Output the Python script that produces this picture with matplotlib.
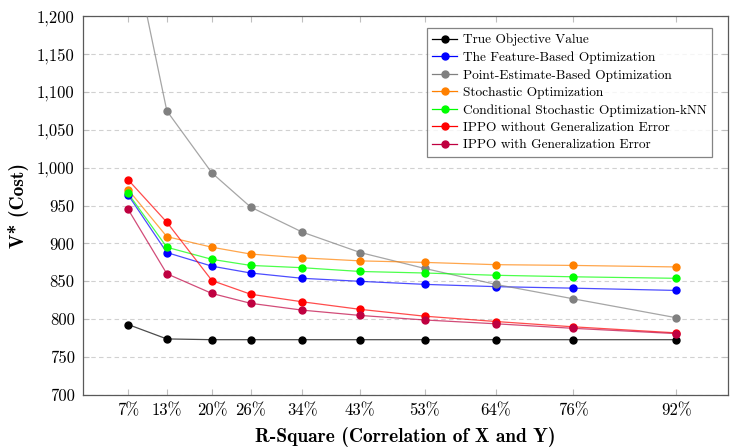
import numpy as np
import matplotlib
matplotlib.use('Agg')
import matplotlib.pyplot as plt
from matplotlib.ticker import FuncFormatter

plt.rcParams['font.family'] = 'serif'
plt.rcParams['font.serif'] = ['cmr10', 'DejaVu Serif']
plt.rcParams['mathtext.fontset'] = 'cm'
plt.rcParams['axes.formatter.use_mathtext'] = True

# R-square levels (%)
r_square = [7, 13, 20, 26, 34, 43, 53, 64, 76, 92]
tick_labels = ['7%', '13%', '20%', '26%', '34%', '43%', '53%', '64%', '76%', '92%']

true_obj = [793, 774, 773, 773, 773, 773, 773, 773, 773, 773]
feature_based = [964, 888, 870, 861, 854, 850, 846, 843, 841, 838]
point_estimate = [1320, 1075, 993, 948, 915, 888, 867, 846, 827, 802]
stochastic = [971, 909, 895, 886, 881, 877, 875, 872, 871, 869]
cond_stoch_knn = [966, 895, 879, 871, 868, 863, 861, 858, 856, 854]
ippo_no_gen = [984, 928, 851, 833, 823, 813, 804, 797, 790, 782]
ippo_gen = [945, 860, 834, 821, 812, 805, 799, 794, 788, 781]

series = [
    ('True Objective Value', true_obj, 'black'),
    ('The Feature-Based Optimization', feature_based, 'blue'),
    ('Point-Estimate-Based Optimization', point_estimate, (0.5, 0.5, 0.5)),
    ('Stochastic Optimization', stochastic, (1.0, 0.5, 0.0)),
    ('Conditional Stochastic Optimization-kNN', cond_stoch_knn, (0.0, 1.0, 0.0)),
    ('IPPO without Generalization Error', ippo_no_gen, 'red'),
    ('IPPO with Generalization Error', ippo_gen, (0.75, 0.0, 0.25)),
]

fig = plt.figure(figsize=(7.3, 4.48), dpi=100)
ax = fig.add_axes([0.1137, 0.1183, 0.8833, 0.8457])

for label, vals, col in series:
    # thin, slightly faded line with solid markers on top
    ax.plot(r_square, vals, color=col, lw=0.9, alpha=0.7, zorder=3)
    ax.plot(r_square, vals, linestyle='none', marker='o', markersize=5,
            color=col, zorder=4)
    ax.plot([], [], color=col, lw=0.9, marker='o', markersize=5,
            label=label)

ax.set_xlim(0, 100)
ax.set_ylim(700, 1200)
ax.set_xticks(r_square)
ax.set_xticklabels(tick_labels, fontsize=12)
ax.set_yticks(np.arange(700, 1201, 50))
ax.yaxis.set_major_formatter(FuncFormatter(lambda v, p: f'{int(v):,}'))
ax.tick_params(axis='y', labelsize=12)
ax.tick_params(direction='in', top=True, right=True, length=4,
               color='0.75', pad=6)
ax.grid(axis='y', linestyle=(0, (4, 3)), color='0.82', lw=0.8)
ax.set_axisbelow(True)
for sp in ax.spines.values():
    sp.set_color('0.35')
    sp.set_linewidth(0.9)

ax.set_xlabel('R-Square (Correlation of X and Y)', fontsize=14,
              fontfamily='cmb10', labelpad=6)
ax.set_ylabel('V* (Cost)', fontsize=14, fontfamily='cmb10', labelpad=6)

leg = ax.legend(loc='upper right', bbox_to_anchor=(0.975, 0.968),
                fontsize=9.6, frameon=True, fancybox=False, edgecolor='0.4',
                handlelength=1.9, handletextpad=0.4, borderpad=0.4,
                labelspacing=0.38, borderaxespad=0.0)
leg.get_frame().set_linewidth(0.9)

fig.savefig('out.png', dpi=100)
